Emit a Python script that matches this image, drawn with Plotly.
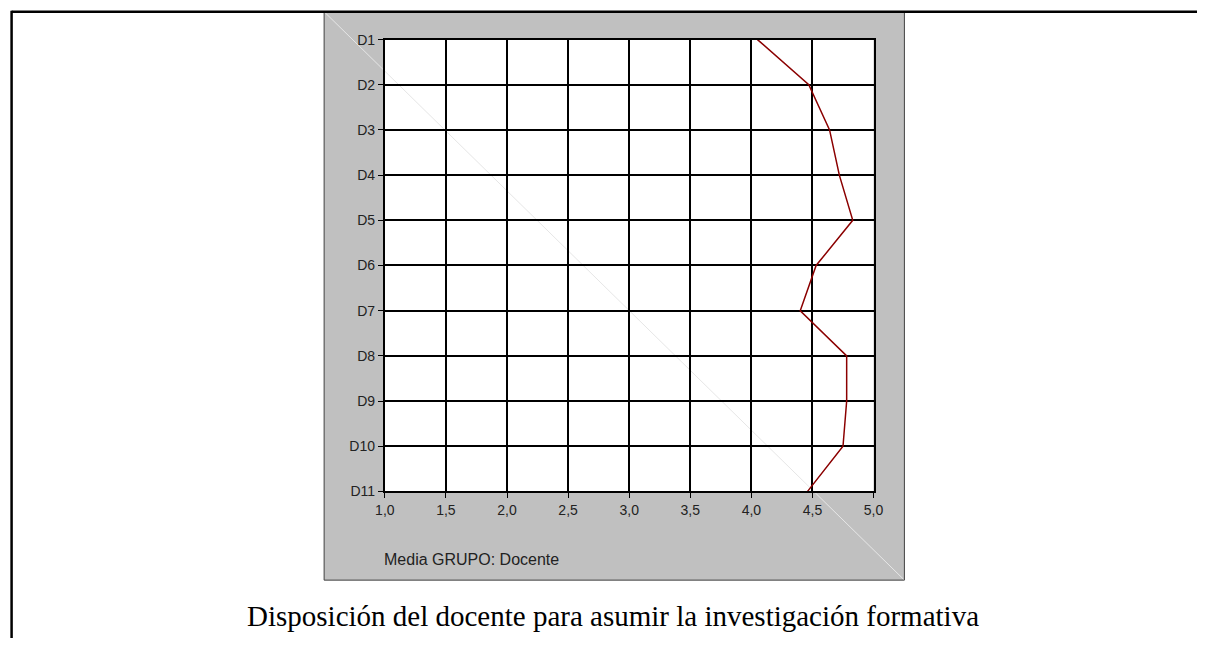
import plotly.graph_objects as go

categories = ["D1", "D2", "D3", "D4", "D5", "D6", "D7", "D8", "D9", "D10", "D11"]
media_docente = [4.05, 4.47, 4.64, 4.72, 4.83, 4.53, 4.40, 4.78, 4.78, 4.75, 4.46]
x_ticks = [1.0, 1.5, 2.0, 2.5, 3.0, 3.5, 4.0, 4.5, 5.0]

W, H = 1207, 646
# the photographed page shows a slightly larger area than the window; compensate
SX, OX = 1207 / 1221.6, 7.4
SY, OY = 646 / 660.6, 7.3
def px(x):
    return ((x - OX) / SX) / W
def py(y):
    return 1 - ((y - OY) / SY) / H

fig = go.Figure()
fig.add_trace(go.Scatter(
    x=media_docente, y=categories, mode="lines",
    line=dict(color="#8b0000", width=1.5), showlegend=False, hoverinfo="x+y",
))

shapes = [
    # outer frame (top and left)
    dict(type="line", xref="paper", yref="paper", x0=px(9), x1=1.0, y0=py(11), y1=py(11),
         line=dict(color="black", width=2.5)),
    dict(type="line", xref="paper", yref="paper", x0=px(9), x1=px(9), y0=py(10), y1=0,
         line=dict(color="black", width=2.5)),
    # gray panel
    dict(type="rect", xref="paper", yref="paper", x0=px(323), x1=px(906), y0=py(581), y1=py(11),
         fillcolor="#c0c0c0", line=dict(color="#404040", width=1), layer="below"),
    # white plot area
    dict(type="rect", xref="paper", yref="paper", x0=px(384), x1=px(875), y0=py(492), y1=py(39),
         fillcolor="white", line=dict(width=0), layer="below"),
    # faint scan diagonal
    dict(type="line", xref="paper", yref="paper", x0=px(324), x1=px(905), y0=py(12), y1=py(580),
         line=dict(color="#e6e6e6", width=1), layer="below"),
]

fig.update_layout(
    width=W, height=H,
    margin=dict(l=0, r=0, t=0, b=0),
    paper_bgcolor="white", plot_bgcolor="rgba(0,0,0,0)",
    separators=",.",
    shapes=shapes,
    font=dict(family="Liberation Sans, Arial, sans-serif", size=14, color="#222"),
    xaxis=dict(
        domain=[px(384), px(875)], range=[1, 5], tickvals=x_ticks, tickformat=".1f",
        showgrid=True, gridcolor="black", gridwidth=1.5, zeroline=False,
        showline=True, mirror=True, linecolor="black", linewidth=2,
        ticks="outside", ticklen=5, tickcolor="black", tickwidth=1,
        tickfont=dict(size=14, color="#222"), fixedrange=True,
    ),
    yaxis=dict(
        domain=[py(492), py(39)], type="category", categoryorder="array",
        categoryarray=categories, range=[10, 0],
        showgrid=True, gridcolor="black", gridwidth=1.5, zeroline=False,
        showline=True, mirror=True, linecolor="black", linewidth=2,
        ticks="outside", ticklen=5, tickcolor="black", tickwidth=1,
        tickfont=dict(size=14, color="#222"), fixedrange=True,
    ),
    annotations=[
        dict(text="Media GRUPO: Docente", xref="paper", yref="paper", x=px(381), y=py(560),
             xanchor="left", yanchor="middle", showarrow=False,
             font=dict(family="Liberation Sans, Arial, sans-serif", size=16, color="#222")),
        dict(text="Disposición del docente para asumir la investigación formativa",
             xref="paper", yref="paper", x=px(613.5), y=py(617), xanchor="center", yanchor="middle",
             showarrow=False,
             font=dict(family="Liberation Serif, Times New Roman, serif", size=29, color="black")),
    ],
)

fig.write_html("out.html", config={"displayModeBar": False},
               post_script="document.body.style.margin='0';document.body.style.overflow='hidden';")
